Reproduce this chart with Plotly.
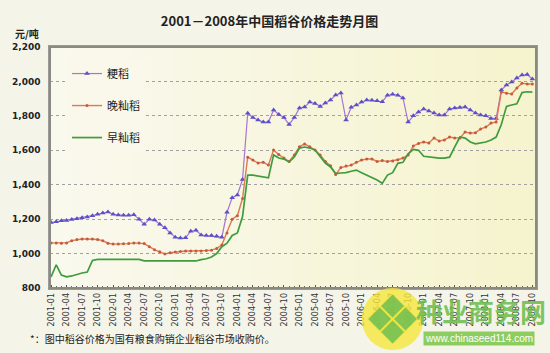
import plotly.graph_objects as go

# ---------------- data ----------------
months = [f"{y}-{m:02d}" for y in range(2001, 2009) for m in range(1, 13)][:94]

japonica = [1180, 1185, 1190, 1192, 1198, 1203, 1208, 1212, 1220, 1228,
            1235, 1242, 1228, 1224, 1222, 1222, 1225, 1200, 1170, 1200,
            1195, 1170, 1150, 1120, 1095, 1090, 1092, 1130, 1135, 1108,
            1105, 1105, 1100, 1095, 1240, 1325, 1340, 1430, 1815, 1790,
            1776, 1764, 1764, 1834, 1808, 1790, 1750, 1790, 1846, 1852,
            1880, 1872, 1855, 1875, 1892, 1921, 1933, 1776, 1850, 1863,
            1880, 1892, 1890, 1888, 1882, 1920, 1925, 1920, 1904, 1764,
            1800, 1822, 1840, 1828, 1817, 1805, 1805, 1840, 1846, 1848,
            1852, 1834, 1817, 1805, 1800, 1785, 1785, 1950, 1979, 1997,
            2020, 2037, 2040, 2014]

late_indica = [1062, 1062, 1060, 1062, 1075, 1082, 1085, 1085, 1085, 1082,
               1075, 1060, 1055, 1055, 1057, 1058, 1062, 1062, 1058, 1040,
               1022, 1010, 998, 1005, 1009, 1012, 1015, 1015, 1015, 1015,
               1018, 1020, 1030, 1050, 1120, 1200, 1220, 1320, 1560, 1543,
               1526, 1530, 1514, 1602, 1575, 1555, 1535, 1573, 1620, 1637,
               1620, 1602, 1573, 1535, 1510, 1460, 1500, 1508, 1514, 1530,
               1543, 1549, 1549, 1535, 1540, 1535, 1538, 1545, 1555, 1573,
               1625, 1640, 1648, 1642, 1671, 1654, 1660, 1677, 1671, 1672,
               1706, 1700, 1702, 1724, 1735, 1758, 1764, 1938, 1932, 1927,
               1962, 1990, 1985, 1985]

early_indica = [865, 935, 875, 865, 870, 880, 887, 893, 960, 966,
                966, 966, 966, 966, 966, 966, 966, 966, 958, 957,
                957, 957, 957, 957, 957, 957, 957, 957, 957, 965,
                970, 980, 1000, 1040, 1060, 1105, 1120, 1215, 1456, 1456,
                1452, 1445, 1440, 1573, 1555, 1549, 1532, 1561, 1613, 1619,
                1613, 1602, 1561, 1526, 1503, 1465, 1468, 1470, 1478, 1485,
                1470, 1456, 1445, 1427, 1408, 1456, 1470, 1524, 1530, 1580,
                1605, 1600, 1565, 1561, 1555, 1555, 1555, 1560, 1620, 1677,
                1671, 1648, 1637, 1642, 1648, 1660, 1677, 1750, 1855, 1863,
                1870, 1935, 1940, 1938]

series_names = ["粳稻", "晚籼稻", "早籼稻"]
tick_labels = months[::3]
y_ticks = [800, 1000, 1200, 1400, 1600, 1800, 2000, 2200]

title_text = "2001－2008年中国稻谷价格走势月图"
unit_text = "元/吨"
note_text = "*：图中稻谷价格为国有粮食购销企业稻谷市场收购价。"

# ---------------- figure ----------------
x = list(range(len(months)))
tick_pos = x[::3]

CJK = "Noto Sans CJK SC"

fig = go.Figure()
fig.add_trace(go.Scatter(
    x=x, y=japonica, name=series_names[0], mode="lines+markers",
    line=dict(color="#A873D8", width=1.2),
    marker=dict(symbol="triangle-up", size=5, color="#5C50C8"),
    legendgroup="g1"))
fig.add_trace(go.Scatter(
    x=x, y=late_indica, name=series_names[1], mode="lines+markers",
    line=dict(color="#DC7A58", width=1.4),
    marker=dict(symbol="circle", size=3, color="#C85A3C"),
    legendgroup="g2"))
fig.add_trace(go.Scatter(
    x=x, y=early_indica, name=series_names[2], mode="lines",
    line=dict(color="#3E9C3E", width=1.7),
    legendgroup="g3"))

# gradient background of plot area
n_strips = 24
c0 = (250, 249, 238)
c1 = (246, 244, 206)
shapes = []
for i in range(n_strips):
    t = i / (n_strips - 1)
    c = tuple(int(c0[k] + (c1[k] - c0[k]) * t) for k in range(3))
    shapes.append(dict(type="rect", xref="x domain", yref="y domain",
                       x0=i / n_strips, x1=(i + 1) / n_strips + 0.002, y0=0, y1=1,
                       fillcolor=f"rgb{c}", line=dict(width=0), layer="below"))
# outer frame
shapes.append(dict(type="rect", xref="paper", yref="paper", x0=0, x1=1, y0=0, y1=1,
                   line=dict(color="#8A8A80", width=2)))

fig.update_layout(
    width=550, height=353,
    margin=dict(l=49, r=13, t=47, b=65),
    paper_bgcolor="#F5F4E9",
    plot_bgcolor="#F9F8EA",
    shapes=shapes,
    showlegend=True,
    legend=dict(x=0.035, y=0.95, xanchor="left", yanchor="top",
                bgcolor="#F9F8EA", borderwidth=0,
                font=dict(family=CJK, size=11, color="#222"),
                traceorder="grouped", tracegroupgap=13, itemwidth=30),
    title=dict(text=title_text, x=0.49, xanchor="center", y=0.94, yanchor="middle",
               font=dict(family=CJK, size=13, color="#222", weight="bold")),
    font=dict(family="DejaVu Sans", color="#222"),
)

fig.update_xaxes(
    range=[-0.2, 93.7], tickmode="array", tickvals=tick_pos, ticktext=tick_labels,
    tickangle=-90, tickfont=dict(family="DejaVu Sans", size=8, color="#333"),
    showgrid=False, zeroline=False,
    showline=True, linecolor="#9A9A9A", linewidth=1.5, mirror=True,
    ticks="inside", ticklen=3, tickcolor="#555",
    minor=dict(dtick=1, tick0=0, ticks="inside", ticklen=2, tickcolor="#666"),
)
fig.update_yaxes(
    range=[800, 2200], tickmode="array", tickvals=y_ticks, tickformat=",",
    tickfont=dict(family="DejaVu Sans", size=9, color="#222", weight="bold"),
    showgrid=True, gridcolor="#A0A0A0", griddash="dot", gridwidth=1,
    zeroline=False, showline=True, linecolor="#9A9A9A", linewidth=1.5, mirror=True,
    ticks="", ticklabelstandoff=6,
)

fig.add_annotation(text=unit_text, xref="paper", yref="paper",
                   x=-0.048, y=1.058, xanchor="center", yanchor="middle",
                   showarrow=False, font=dict(family=CJK, size=10, color="#222", weight="bold"))
fig.add_annotation(text=note_text, xref="paper", yref="paper",
                   x=-0.045, y=-0.21, xanchor="left", yanchor="middle",
                   showarrow=False, font=dict(family=CJK, size=10, color="#222"))


# watermark (site logo)
def px(xp):
    return (xp - 49) / 488


def py(yp):
    return 1 - (yp - 47) / 241


fig.add_shape(type="circle", xref="paper", yref="paper",
              x0=px(362), x1=px(424), y0=py(350), y1=py(288),
              fillcolor="rgba(245,230,60,0.8)", line=dict(width=0))
fig.add_shape(type="path", xref="paper", yref="paper",
              path=f"M {px(368)},{py(319)} L {px(393)},{py(294)} L {px(418)},{py(319)} L {px(393)},{py(344)} Z",
              fillcolor="rgba(110,190,80,0.85)", line=dict(color="rgba(245,230,60,0.9)", width=1))
fig.add_shape(type="line", xref="paper", yref="paper",
              x0=px(380.5), y0=py(306.5), x1=px(405.5), y1=py(331.5),
              line=dict(color="rgba(245,230,60,0.95)", width=2))
fig.add_shape(type="line", xref="paper", yref="paper",
              x0=px(405.5), y0=py(306.5), x1=px(380.5), y1=py(331.5),
              line=dict(color="rgba(245,230,60,0.95)", width=2))
fig.add_annotation(text="种业商务网", xref="paper", yref="paper",
                   x=px(482), y=py(310), xanchor="center", yanchor="middle",
                   showarrow=False, font=dict(family=CJK, size=26, color="rgba(110,190,80,0.9)", weight="bold"))
fig.add_annotation(text="www.chinaseed114.com", xref="paper", yref="paper",
                   x=px(480), y=py(338), xanchor="center", yanchor="middle",
                   showarrow=False, bgcolor="rgba(130,200,80,0.9)",
                   font=dict(family="Liberation Sans", size=10, color="white"))

fig.write_html("out.html")
